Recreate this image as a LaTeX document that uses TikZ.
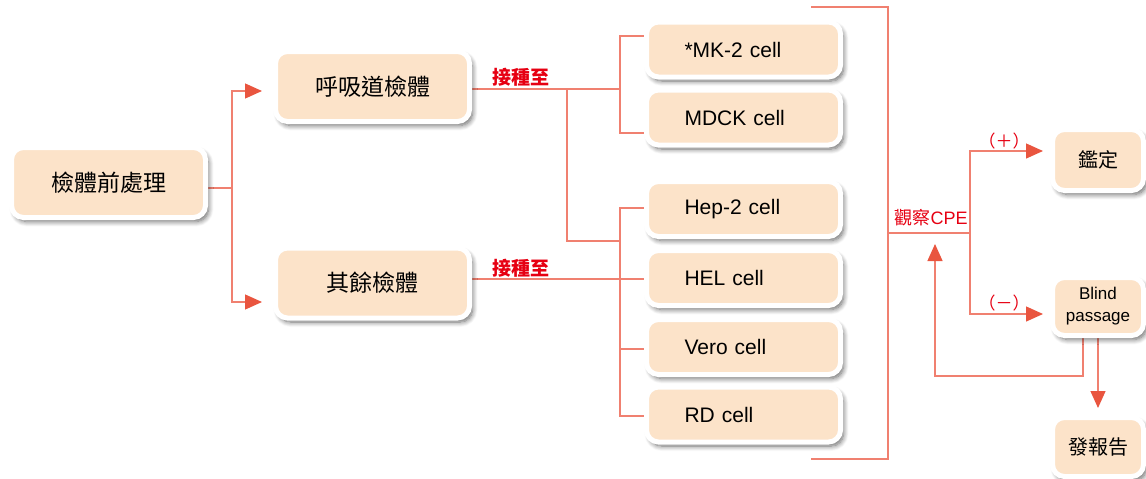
\documentclass[tikz,border=0pt]{standalone}
\usepackage{fontspec}
\setmainfont{Noto Sans CJK TC}
\newfontfamily\latin{Liberation Sans}
\usetikzlibrary{arrows.meta,shadows.blur,backgrounds}
\definecolor{peach}{RGB}{252,227,201}
\definecolor{lnred}{RGB}{240,128,112}
\definecolor{arrred}{RGB}{233,85,63}
\definecolor{txtred}{RGB}{230,0,18}
\begin{document}
\begin{tikzpicture}[x=1pt,y=-1pt,
  box/.style={draw=white, line width=5pt, fill=peach, rounded corners=12pt, inner sep=0pt,
    blur shadow={shadow xshift=3pt, shadow yshift=-4pt, shadow blur radius=5pt, shadow blur steps=8, shadow opacity=60}},
  bigbox/.style={box, minimum width=194pt, minimum height=70pt, font=\fontsize{23}{27}\selectfont},
  cellbox/.style={box, minimum height=55pt, text width=118pt, inner xsep=38pt, align=left, font=\latin\fontsize{21}{25}\selectfont},
  rbox/.style={box, minimum width=91pt, font=\fontsize{20}{24}\selectfont},
  ln/.style={draw=lnred, line width=1.3pt},
  arr/.style={ln, -{Triangle[length=17pt,width=15pt,color=arrred]}},
  redlbl/.style={text=txtred, inner sep=0pt}
]
\useasboundingbox (0,0) rectangle (1146,479);

% boxes
\node[bigbox] (pre) at (108.5,182.5) {檢體前處理};
\node[bigbox] (resp) at (372.5,86.5) {呼吸道檢體};
\node[bigbox] (other) at (372.5,283) {其餘檢體};

\node[cellbox] (mk) at (743.5,49.5) {*MK-2 cell};
\node[cellbox] (mdck) at (743.5,117.5) {MDCK cell};
\node[cellbox] (hep) at (743.5,209) {Hep-2 cell};
\node[cellbox] (hel) at (743.5,278) {HEL cell};
\node[cellbox] (vero) at (743.5,347) {Vero cell};
\node[cellbox] (rd) at (743.5,414.5) {RD cell};

\node[rbox, minimum height=61pt] (jd) at (1098,160) {鑑定};
\node[rbox, minimum height=58pt, align=center, font=\latin\fontsize{17}{22}\selectfont] (blind) at (1098,306.5) {Blind\\passage};
\node[rbox, minimum height=59pt] (rep) at (1098,447) {發報告};

% labels
\node[redlbl, font=\bfseries\fontsize{19}{22}\selectfont] (l1) at (521,77) {接種至};
\node[redlbl, font=\bfseries\fontsize{19}{22}\selectfont] (l2) at (521,268) {接種至};
\node[redlbl, font=\fontsize{18}{22}\selectfont] (l3) at (931,218) {觀察{\latin CPE}};
\node[redlbl, font=\fontsize{17}{20}\selectfont] (l4) at (1004,141) {（＋）};
\node[redlbl, font=\fontsize{17}{20}\selectfont] (l5) at (1004,303) {（－）};

% connectors
\begin{scope}[on background layer]
\coordinate (a1) at (232,188);
\draw[ln] (pre.east |- a1) -- (a1);
\draw[arr] (a1) |- (262,91);
\draw[arr] (a1) |- (262,302);

\coordinate (j1) at (567,89);
\coordinate (b1) at (620,89);
\draw[ln] (resp.east |- j1) -- (b1);
\draw[ln] (j1) |- (620,241);
\draw[ln] (mk.west |- 0,36) -| (b1) |- (mdck.west |- 0,133);

\coordinate (b2) at (620,279);
\draw[ln] (hep.west |- 0,208) -| (b2) |- (rd.west |- 0,416);
\draw[ln] (other.east |- b2) -- (hel.west |- b2);
\draw[ln] (b2 |- 0,349) -- (vero.west |- 0,349);

\coordinate (c1) at (888,233);
\draw[ln] (811,7) -| (c1) |- (811,459);
\coordinate (c2) at (970,233);
\draw[ln] (c1) -- (c2);
\draw[arr] (c2) |- (1043,151);
\draw[arr] (c2) |- (1043,314);

\draw[arr] (blind.south -| 1083,0) |- (935,376) -- (935,244);
\draw[arr] (blind.south) -- (1098,408);
\end{scope}
\end{tikzpicture}
\end{document}
